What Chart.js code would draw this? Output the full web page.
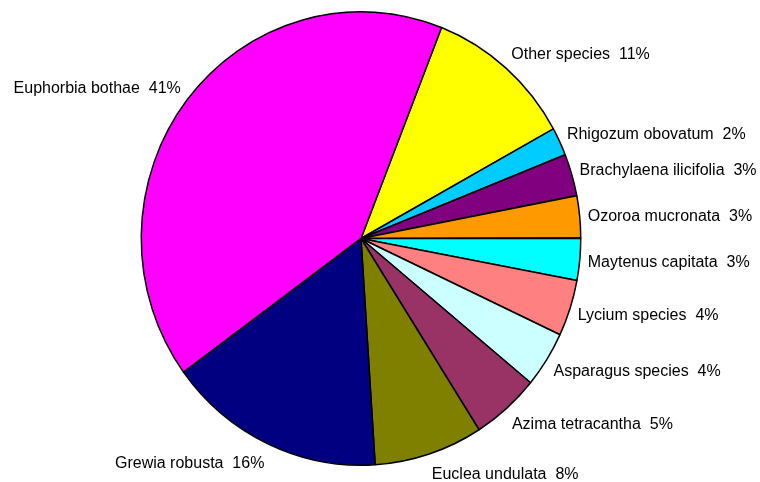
<!DOCTYPE html>
<html lang="en">
<head>
    <meta charset="UTF-8">
    <title>Species composition</title>
    <script src="https://cdn.jsdelivr.net/npm/chart.js"></script>
    <style>
        html, body { margin: 0; padding: 0; background: #ffffff; }
        #wrap { width: 760px; height: 482px; }
    </style>
</head>
<body>
<div id="wrap">
    <canvas id="speciesChart" width="760" height="482"></canvas>
</div>
<script>
// clockwise from the slice just right of 12 o'clock
const species = [
    'Other species', 'Rhigozum obovatum', 'Brachylaena ilicifolia', 'Ozoroa mucronata',
    'Maytenus capitata', 'Lycium species', 'Asparagus species', 'Azima tetracantha',
    'Euclea undulata', 'Grewia robusta', 'Euphorbia bothae'
];
const shares = [11, 2, 3, 3, 3, 4, 4, 5, 8, 16, 41];
const sliceColors = [
    '#FFFF00', '#00CCFF', '#800080', '#FF9900',
    '#00FFFF', '#FF8080', '#CCFFFF', '#993366',
    '#808000', '#000080', '#FF00FF'
];

// pie is slightly taller than wide
const stretchY = 227 / 220;

const ellipsePlugin = {
    id: 'ellipse',
    beforeDatasetsDraw(chart) {
        const arc = chart.getDatasetMeta(0).data[0];
        const ctx = chart.ctx;
        ctx.save();
        ctx.translate(arc.x, arc.y);
        ctx.scale(1, stretchY);
        ctx.translate(-arc.x, -arc.y);
    },
    afterDatasetsDraw(chart) {
        chart.ctx.restore();
    }
};

const outsideLabels = {
    id: 'outsideLabels',
    afterDraw(chart) {
        const ctx = chart.ctx;
        const total = shares.reduce((a, b) => a + b, 0);
        ctx.save();
        ctx.font = '16px "Liberation Sans", Arial, sans-serif';
        ctx.fillStyle = '#000000';
        ctx.textBaseline = 'alphabetic';
        chart.getDatasetMeta(0).data.forEach(function(arc, i) {
            const mid = (arc.startAngle + arc.endAngle) / 2;
            const rx = arc.outerRadius;
            const ry = arc.outerRadius * stretchY;
            const cx = Math.cos(mid), cy = Math.sin(mid);
            const x = arc.x + cx * (rx + 8);
            const y = arc.y + cy * (ry + 20);
            const pct = Math.round(shares[i] / total * 100);
            ctx.textAlign = cx >= 0 ? 'left' : 'right';
            ctx.fillText(species[i] + '  ' + pct + '%', x, y + 5.7);
        });
        ctx.restore();
    }
};

new Chart(document.getElementById('speciesChart'), {
    type: 'pie',
    data: {
        labels: species,
        datasets: [{
            data: shares,
            backgroundColor: sliceColors,
            borderColor: '#000000',
            borderWidth: 1.5,
            hoverOffset: 0
        }]
    },
    options: {
        responsive: false,
        animation: false,
        rotation: 21.5,
        layout: {
            padding: { left: 140.5, right: 178.5, top: 18, bottom: 23 }
        },
        plugins: {
            legend: { display: false },
            tooltip: { enabled: false }
        }
    },
    plugins: [ellipsePlugin, outsideLabels]
});
</script>
</body>
</html>
